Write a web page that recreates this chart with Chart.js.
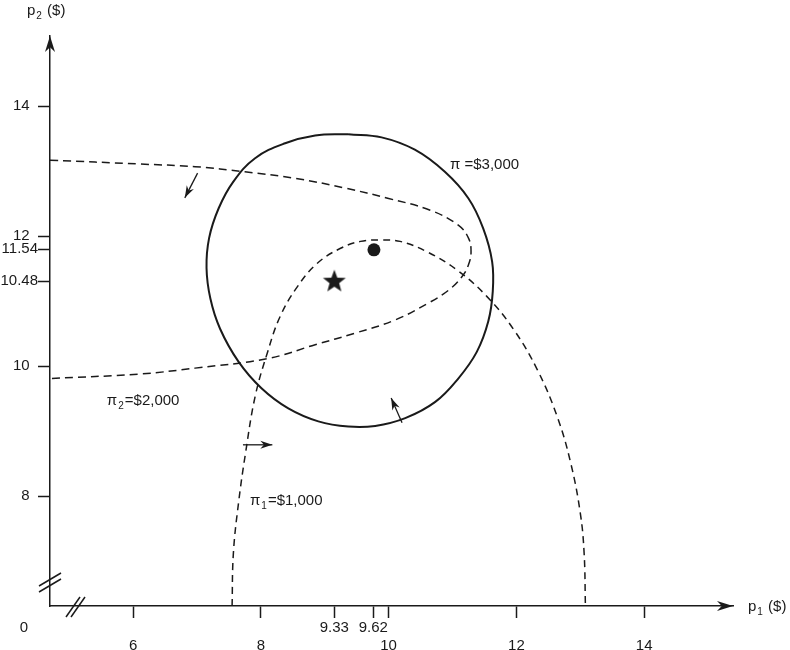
<!DOCTYPE html>
<html>
<head>
<meta charset="utf-8">
<script src="https://cdn.jsdelivr.net/npm/chart.js@4.4.0/dist/chart.umd.min.js"></script>
<style>
  body { margin: 0; background: #fff; }
  #wrap { width: 790px; height: 650px; }
</style>
</head>
<body>
<div id="wrap"><canvas id="myChart"></canvas></div>
<script>
// axis ranges (the drawn part of each axis, after the break)
var xMin = 4.7, xMax = 15.39;
var yMin = 6.31, yMax = 15.08;

// tick marks as drawn; the small labels sit where the figure puts them
var xTickVals = [6, 8, 9.15, 9.76, 10, 12, 14];
var xTickText = [["", "6"], ["", "8"], "9.33", "9.62", ["", "10"], ["", "12"], ["", "14"]];
var yTickVals = [8, 10, 11.31, 11.8, 12, 14];
var yTickText = ["8  ", "10  ", "10.48", "11.54", "12  ", "14  "];

// iso-profit curve pi2 = $2,000 (dashed, opens to the left)
var pi2X = [4.70, 6.11, 6.97, 7.75, 8.54, 9.32, 10.00, 10.65, 11.09, 11.25, 11.29, 11.25, 11.15, 10.94, 10.62, 10.10, 9.48, 8.85, 8.12, 6.97, 6.11, 4.70];
var pi2Y = [13.17, 13.11, 13.07, 12.99, 12.89, 12.74, 12.58, 12.40, 12.17, 11.97, 11.76, 11.56, 11.38, 11.17, 10.97, 10.71, 10.51, 10.33, 10.12, 9.97, 9.88, 9.81];

// iso-profit curve pi1 = $1,000 (dashed, opens downward)
var pi1X = [7.55, 7.57, 7.65, 7.76, 7.91, 8.10, 8.30, 8.57, 8.88, 9.24, 9.56, 9.87, 10.18, 10.60, 11.07, 11.54, 11.96, 12.33, 12.64, 12.85, 13.00, 13.06, 13.08];
var pi1Y = [6.31, 7.12, 7.89, 8.66, 9.53, 10.20, 10.76, 11.22, 11.58, 11.81, 11.92, 11.94, 11.92, 11.76, 11.48, 11.07, 10.56, 9.94, 9.22, 8.51, 7.74, 7.12, 6.31];

// total profit pi = $3,000 (solid closed curve)
var piX = [9.37, 9.89, 10.41, 10.88, 11.25, 11.48, 11.62, 11.63, 11.56, 11.38, 11.09, 10.73, 10.26, 9.79, 9.37, 8.90, 8.43, 8.01, 7.65, 7.36, 7.21, 7.15, 7.19, 7.34, 7.57, 7.91, 8.38, 8.85, 9.37];
var piY = [13.57, 13.52, 13.33, 12.99, 12.58, 12.12, 11.61, 11.15, 10.69, 10.22, 9.81, 9.45, 9.20, 9.08, 9.07, 9.15, 9.35, 9.66, 10.07, 10.58, 11.04, 11.51, 11.97, 12.43, 12.84, 13.20, 13.43, 13.55, 13.57];

// optimum (star) and the other point (dot)
var starPt = [9.15, 11.30];
var dotPt = [9.77, 11.79];

// small direction arrows: [fromX, fromY, toX, toY]
var dirArrows = [
  [7.01, 12.97, 6.81, 12.59],
  [7.72, 8.79, 8.18, 8.79],
  [10.21, 9.13, 10.04, 9.51]
];

// curve labels: [x, baseline y, main, subscript, rest]
var curveLabels = [
  [10.96, 13.03, "\u03c0 =$3,000", "", ""],
  [5.59, 9.40, "\u03c0", "2", "=$2,000"],
  [7.83, 7.86, "\u03c0", "1", "=$1,000"]
];

var ink = "#1a1a1a";
var fam = '"Liberation Sans", Arial, sans-serif';

function pts(xs, ys) {
  return xs.map(function (x, i) { return { x: x, y: ys[i] }; });
}

function makeStar(r) {
  var c = document.createElement("canvas");
  c.width = 2 * r + 2;
  c.height = 2 * r + 2;
  var g = c.getContext("2d");
  g.fillStyle = ink;
  g.beginPath();
  for (var i = 0; i < 10; i++) {
    var rad = i % 2 == 0 ? r : r * 0.42;
    var ang = -Math.PI / 2 + i * Math.PI / 5;
    var x = r + 1 + rad * Math.cos(ang);
    var y = r + 1 + rad * Math.sin(ang);
    if (i == 0) g.moveTo(x, y); else g.lineTo(x, y);
  }
  g.closePath();
  g.fill();
  return c;
}

function head(ctx, x1, y1, x2, y2, len, half) {
  var dx = x2 - x1, dy = y2 - y1;
  var d = Math.sqrt(dx * dx + dy * dy);
  var ux = dx / d, uy = dy / d, nx = -uy, ny = ux;
  ctx.beginPath();
  ctx.moveTo(x2, y2);
  ctx.lineTo(x2 - ux * len + nx * half, y2 - uy * len + ny * half);
  ctx.lineTo(x2 - ux * len * 0.7, y2 - uy * len * 0.7);
  ctx.lineTo(x2 - ux * len - nx * half, y2 - uy * len - ny * half);
  ctx.closePath();
  ctx.fill();
}

function arrow(ctx, x1, y1, x2, y2) {
  ctx.beginPath();
  ctx.moveTo(x1, y1);
  ctx.lineTo(x2, y2);
  ctx.stroke();
  head(ctx, x1, y1, x2, y2, 12, 4);
}

function subText(ctx, x, y, main, sub, rest) {
  ctx.textAlign = "left";
  ctx.textBaseline = "alphabetic";
  ctx.font = "15px " + fam;
  ctx.fillText(main, x, y);
  x += ctx.measureText(main).width + 1;
  if (sub) {
    ctx.font = "10px " + fam;
    ctx.fillText(sub, x, y + 4);
    x += ctx.measureText(sub).width + 1;
  }
  if (rest) {
    ctx.font = "15px " + fam;
    ctx.fillText(rest, x, y);
  }
}

function line(ctx, x1, y1, x2, y2) {
  ctx.beginPath();
  ctx.moveTo(x1, y1);
  ctx.lineTo(x2, y2);
  ctx.stroke();
}

var extras = {
  id: "extras",
  afterDraw: function (chart) {
    var ctx = chart.ctx, a = chart.chartArea;
    var xs = chart.scales.x, ys = chart.scales.y;
    ctx.save();
    ctx.strokeStyle = ink;
    ctx.fillStyle = ink;
    ctx.lineWidth = 1.5;

    // axis arrow heads
    head(ctx, a.left, a.bottom, a.left, a.top, 16, 5);
    head(ctx, a.left, a.bottom, a.right, a.bottom, 16, 5);

    // axis breaks
    line(ctx, a.left - 11, a.bottom - 20, a.left + 11, a.bottom - 33);
    line(ctx, a.left - 11, a.bottom - 14, a.left + 11, a.bottom - 27);
    line(ctx, a.left + 16, a.bottom + 11, a.left + 30, a.bottom - 9);
    line(ctx, a.left + 21, a.bottom + 11, a.left + 35, a.bottom - 9);

    // origin and axis titles
    ctx.font = "15px " + fam;
    ctx.textAlign = "center";
    ctx.textBaseline = "middle";
    ctx.fillText("0", a.left - 26, a.bottom + 22);
    subText(ctx, a.left - 23, a.top - 21, "p", "2", " ($)");
    subText(ctx, a.right + 15, a.bottom + 5, "p", "1", " ($)");

    // direction arrows
    ctx.lineWidth = 1.3;
    dirArrows.forEach(function (d) {
      arrow(ctx, xs.getPixelForValue(d[0]), ys.getPixelForValue(d[1]),
        xs.getPixelForValue(d[2]), ys.getPixelForValue(d[3]));
    });

    // curve labels
    curveLabels.forEach(function (l) {
      subText(ctx, xs.getPixelForValue(l[0]), ys.getPixelForValue(l[1]), l[2], l[3], l[4]);
    });
    ctx.restore();
  }
};

var ctx = document.getElementById("myChart");
var myChart = new Chart(ctx, {
  type: "scatter",
  data: {
    datasets: [
      {
        data: pts(pi2X, pi2Y),
        showLine: true,
        borderColor: ink,
        borderWidth: 1.5,
        borderDash: [8, 5],
        pointRadius: 0,
        tension: 0.4,
      },
      {
        data: pts(pi1X, pi1Y),
        showLine: true,
        borderColor: ink,
        borderWidth: 1.5,
        borderDash: [7, 5],
        pointRadius: 0,
        tension: 0.4,
      },
      {
        data: pts(piX, piY),
        showLine: true,
        borderColor: ink,
        borderWidth: 2,
        pointRadius: 0,
        tension: 0.4,
      },
      {
        data: [{ x: starPt[0], y: starPt[1] }],
        pointStyle: makeStar(12),
        pointRadius: 12,
      },
      {
        data: [{ x: dotPt[0], y: dotPt[1] }],
        pointStyle: "circle",
        pointRadius: 6.5,
        backgroundColor: ink,
        borderColor: ink,
        borderWidth: 0,
      },
    ],
  },
  options: {
    responsive: true,
    maintainAspectRatio: false,
    animation: false,
    layout: { padding: { top: 36, right: 57, left: 0, bottom: 0 } },
    plugins: { legend: { display: false }, tooltip: { enabled: false } },
    scales: {
      x: {
        type: "linear",
        min: xMin,
        max: xMax,
        afterBuildTicks: function (scale) {
          scale.ticks = xTickVals.map(function (v) { return { value: v }; });
        },
        afterFit: function (scale) { scale.height = 44; },
        border: { color: ink, width: 1.5 },
        grid: { drawOnChartArea: false, drawTicks: true, tickLength: 12, tickColor: ink, tickWidth: 1.5 },
        ticks: {
          autoSkip: false,
          maxRotation: 0,
          padding: 1,
          color: ink,
          font: { family: fam, size: 15 },
          callback: function (v, i) { return xTickText[i]; },
        },
      },
      y: {
        type: "linear",
        min: yMin,
        max: yMax,
        afterBuildTicks: function (scale) {
          scale.ticks = yTickVals.map(function (v) { return { value: v }; });
        },
        afterFit: function (scale) { scale.width = 50; },
        border: { color: ink, width: 1.5 },
        grid: { drawOnChartArea: false, drawTicks: true, tickLength: 12, tickColor: ink, tickWidth: 1.5 },
        ticks: {
          autoSkip: false,
          padding: 0,
          color: ink,
          font: { family: fam, size: 15 },
          callback: function (v, i) { return yTickText[i]; },
        },
      },
    },
  },
  plugins: [extras],
});
</script>
</body>
</html>
